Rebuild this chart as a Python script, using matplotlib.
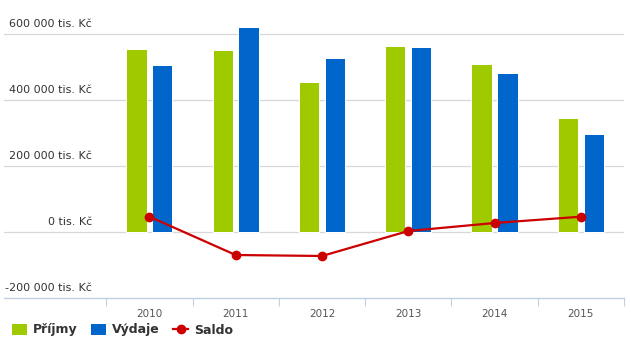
import numpy as np
import matplotlib
matplotlib.use("Agg")
import matplotlib.pyplot as plt
from matplotlib.patches import Patch
from matplotlib.lines import Line2D

years = ["2010", "2011", "2012", "2013", "2014", "2015"]
prijmy = [554500, 551500, 454500, 563600, 509000, 345400]
vydaje = [506000, 621200, 527000, 560600, 481800, 297000]
saldo = [46400, -69700, -72700, 3000, 27300, 46400]
yticks = [-200000, 0, 200000, 400000, 600000]
ytick_labels = ["-200 000 tis. Kč", "0 tis. Kč", "200 000 tis. Kč", "400 000 tis. Kč", "600 000 tis. Kč"]

green = "#9fca00"
blue = "#0066cc"
red = "#cc0000"
axis_col = "#c0d0e0"
grid_col = "#d8d8d8"

plt.rcParams['font.family'] = ['DejaVu Sans']

W, H = 631, 344
fig = plt.figure(figsize=(W / 100, H / 100), dpi=100)
ax = fig.add_axes([4 / W, 46 / H, 620 / W, 288 / H])

x = np.arange(len(years))
bw = 0.235
off = 0.15

ax.bar(x - off, prijmy, bw, color=green, edgecolor="white", linewidth=0.72, zorder=2)
ax.bar(x + off, vydaje, bw, color=blue, edgecolor="white", linewidth=0.72, zorder=2)
ax.plot(x, saldo, color=red, lw=1.6, marker="o", markersize=6, zorder=3)

px = 200000 / 66
ax.set_ylim(-200000, -200000 + 288 * px)
ax.set_xlim(-1.685, 5.5)

for v, lab in zip(yticks, ytick_labels):
    if v > -200000:
        ax.axhline(v, color=grid_col, lw=0.9, zorder=1)
    ax.annotate(lab, xy=(0, v), xycoords=("axes fraction", "data"),
                xytext=(88, 10), textcoords="offset pixels",
                ha="right", va="center", fontsize=8, color="#333333")

ax.set_yticks([])
for s in ["top", "right", "left"]:
    ax.spines[s].set_visible(False)
ax.spines["bottom"].set_color(axis_col)
ax.spines["bottom"].set_linewidth(1)

ax.set_xticks(np.arange(-0.5, len(years), 1.0))
ax.set_xticklabels([])
ax.tick_params(axis="x", which="major", length=6, width=0.8, color=axis_col, direction="out")
ax.set_xticks(x, minor=True)
ax.set_xticklabels(years, minor=True)
ax.tick_params(axis="x", which="minor", length=0, pad=8, labelsize=7.5, labelcolor="#555555")

handles = [
    Patch(facecolor=green, edgecolor="none", label="Příjmy"),
    Patch(facecolor=blue, edgecolor="none", label="Výdaje"),
    Line2D([0], [0], color=red, lw=1.6, marker="o", markersize=6, label="Saldo"),
]
leg = fig.legend(handles=handles, loc="center left", bbox_to_anchor=(12 / W, 1 - 330 / H),
                 ncol=3, frameon=False, handlelength=1.2, handleheight=1.0,
                 handletextpad=0.5, columnspacing=1.05, borderaxespad=0.0,
                 borderpad=0.0, prop={"weight": "bold", "size": 9})
for t in leg.get_texts():
    t.set_color("#333333")

fig.savefig("out.png", dpi=100)
